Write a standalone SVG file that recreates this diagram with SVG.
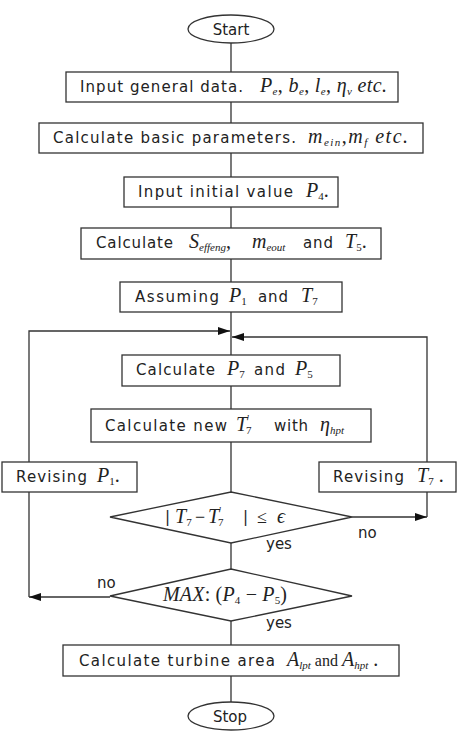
<svg xmlns="http://www.w3.org/2000/svg" width="458" height="732" viewBox="0 0 458 732">
<defs>
<marker id="ah" viewBox="0 0 12 8" refX="12" refY="4" markerWidth="12" markerHeight="8" markerUnits="userSpaceOnUse" orient="auto">
<path d="M0,0 L12,4 L0,8 Z" fill="#111"/>
</marker>
<style>
.box{fill:#fff;stroke:#333;stroke-width:1.3}
.ln{fill:none;stroke:#333;stroke-width:1.3}
.t{font-family:"DejaVu Sans","Liberation Sans",sans-serif;font-size:15px;fill:#222}
.m{font-family:"Liberation Serif","Times New Roman",serif;font-style:italic;font-size:20px;fill:#222}
.r{font-family:"Liberation Serif","Times New Roman",serif;font-size:18px;fill:#222}
.s{font-size:11px}
.n{font-style:normal}
.c{text-anchor:middle}
</style>
</defs>
<rect width="458" height="732" fill="#fff"/>
<g id="connectors">
<path class="ln" d="M231,43 V72 M231,102 V123 M231,153 V177 M231,207 V228 M231,259 V282 M231,312 V355 M231,386 V409 M231,442 V492 M231,543 V569 M231,621 V645 M231,676 V702"/>
<path class="ln" d="M352,517 H427" marker-end="url(#ah)"/>
<path class="ln" d="M427,517 V337 H232" marker-end="url(#ah)"/>
<path class="ln" d="M110,597 H29" marker-end="url(#ah)"/>
<path class="ln" d="M29,597 V331 H230" marker-end="url(#ah)"/>
</g>
<g id="start">
<ellipse class="box" cx="231" cy="29" rx="43" ry="14"/>
<text class="t c" x="231" y="35" font-size="16">Start</text>
</g>
<g id="input-general">
<rect class="box" x="66" y="72" width="332" height="30"/>
<text class="t" x="80" y="92" textLength="163" lengthAdjust="spacing">Input general data.</text>
<text class="m" x="260" y="92" textLength="127" lengthAdjust="spacing">P<tspan class="s" dy="3">e</tspan><tspan class="n" dy="-3">, </tspan>b<tspan class="s" dy="3">e</tspan><tspan class="n" dy="-3">, </tspan>l<tspan class="s" dy="3">e</tspan><tspan class="n" dy="-3">, </tspan>η<tspan class="s" dy="3">v</tspan><tspan dy="-3">  etc.</tspan></text>
</g>
<g id="calc-basic">
<rect class="box" x="39" y="123" width="384" height="30"/>
<text class="t" x="53" y="143" textLength="243" lengthAdjust="spacing">Calculate basic parameters.</text>
<text class="m" x="308" y="143" textLength="100" lengthAdjust="spacing">m<tspan class="s" dy="3">ein</tspan><tspan class="n" dy="-3">,</tspan>m<tspan class="s" dy="3">f</tspan><tspan dy="-3"> etc.</tspan></text>
</g>
<g id="input-initial">
<rect class="box" x="124" y="177" width="214" height="30"/>
<text class="t" x="138" y="197" textLength="155" lengthAdjust="spacing">Input initial value</text>
<text class="m" x="306" y="197">P<tspan class="s n" dy="3">4</tspan><tspan class="n" dy="-3">.</tspan></text>
</g>
<g id="calc-s">
<rect class="box" x="81" y="228" width="300" height="31"/>
<text class="t" x="96" y="248" textLength="77" lengthAdjust="spacing">Calculate</text>
<text class="m" x="189" y="248">S<tspan class="s" dy="3">effeng</tspan><tspan class="n" dy="-3">,</tspan></text>
<text class="m" x="252" y="248">m<tspan class="s" dy="3">eout</tspan></text>
<text class="t" x="303" y="248" textLength="30" lengthAdjust="spacing">and</text>
<text class="m" x="345" y="248">T<tspan class="s n" dy="3">5</tspan><tspan class="n" dy="-3">.</tspan></text>
</g>
<g id="assuming">
<rect class="box" x="120" y="282" width="222" height="30"/>
<text class="t" x="135" y="302" textLength="84" lengthAdjust="spacing">Assuming</text>
<text class="m" x="229" y="302">P<tspan class="s n" dy="3">1</tspan></text>
<text class="t" x="258" y="302" textLength="30" lengthAdjust="spacing">and</text>
<text class="m" x="301" y="302">T<tspan class="s n" dy="3">7</tspan></text>
</g>
<g id="calc-p7">
<rect class="box" x="122" y="355" width="218" height="31"/>
<text class="t" x="136" y="375" textLength="79" lengthAdjust="spacing">Calculate</text>
<text class="m" x="227" y="375">P<tspan class="s n" dy="3">7</tspan></text>
<text class="t" x="254" y="375" textLength="31" lengthAdjust="spacing">and</text>
<text class="m" x="295" y="375">P<tspan class="s n" dy="3">5</tspan></text>
</g>
<g id="calc-new-t7">
<rect class="box" x="91" y="409" width="280" height="33"/>
<text class="t" x="105" y="431" textLength="122" lengthAdjust="spacing">Calculate new</text>
<text class="m" x="236" y="431">T<tspan class="s n" dy="-9">'</tspan><tspan class="s n" dx="-3" dy="12">7</tspan></text>
<text class="t" x="274" y="431" textLength="34" lengthAdjust="spacing">with</text>
<text class="m" x="320" y="431">η<tspan class="s" dy="3">hpt</tspan></text>
</g>
<g id="revise-p1">
<rect class="box" x="2" y="462" width="135" height="30"/>
<text class="t" x="16" y="482" textLength="71" lengthAdjust="spacing">Revising</text>
<text class="m" x="97" y="482">P<tspan class="s n" dy="3">1</tspan><tspan class="n" dy="-3">.</tspan></text>
</g>
<g id="revise-t7">
<rect class="box" x="319" y="462" width="137" height="30"/>
<text class="t" x="333" y="482" textLength="71" lengthAdjust="spacing">Revising</text>
<text class="m" x="417" y="482">T<tspan class="s n" dy="3">7</tspan><tspan class="n" dy="-3"> .</tspan></text>
</g>
<g id="decision-t7">
<polygon class="box" points="231,492 352,517 231,543 110,517"/>
<text class="t" x="165" y="522" fill="#999" font-size="12">|</text>
<text class="m" x="175" y="523">T<tspan class="s n" dy="3">7</tspan></text>
<text class="r" x="195" y="523">−</text>
<text class="m" x="208" y="523">T<tspan class="s n" dy="-9">'</tspan><tspan class="s n" dx="-3" dy="12">7</tspan></text>
<text class="t" x="243" y="522" fill="#999" font-size="12">|</text>
<text class="r" x="257" y="523">≤</text>
<text class="m" x="277" y="523">ϵ</text>
<text class="t" x="358" y="538">no</text>
<text class="t" x="266" y="549">yes</text>
</g>
<g id="decision-max">
<polygon class="box" points="231,569 352,596 231,621 110,596"/>
<text class="m" x="163" y="601" textLength="124" lengthAdjust="spacing">MAX<tspan class="n">: (</tspan>P<tspan class="s n" dy="3">4</tspan><tspan class="n" dy="-3"> − </tspan>P<tspan class="s n" dy="3">5</tspan><tspan class="n" dy="-3">)</tspan></text>
<text class="t" x="97" y="588">no</text>
<text class="t" x="266" y="628">yes</text>
</g>
<g id="calc-area">
<rect class="box" x="63" y="645" width="336" height="31"/>
<text class="t" x="79" y="666" textLength="196" lengthAdjust="spacing">Calculate turbine area</text>
<text class="m" x="287" y="666">A<tspan class="s" dy="3">lpt</tspan><tspan class="n" dy="-3" font-size="16"> and </tspan>A<tspan class="s" dy="3">hpt</tspan><tspan class="n" dy="-3"> .</tspan></text>
</g>
<g id="stop">
<ellipse class="box" cx="231" cy="716" rx="43" ry="14"/>
<text class="t c" x="230" y="722" font-size="16">Stop</text>
</g>
</svg>
